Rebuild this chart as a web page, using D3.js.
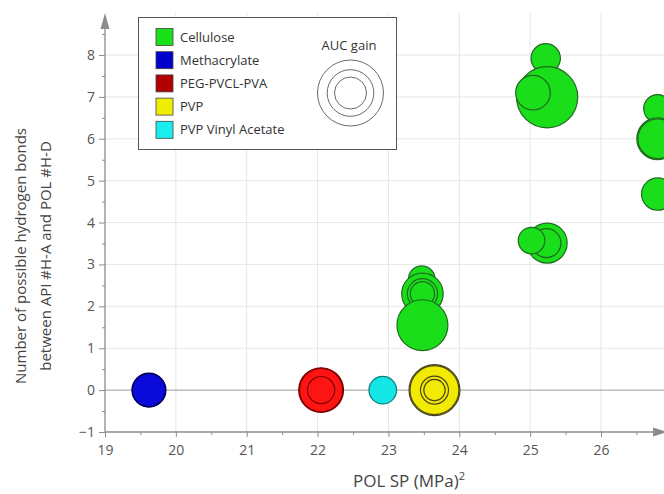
<!DOCTYPE html>
<html>
<head>
<meta charset="utf-8">
<script src="https://cdn.jsdelivr.net/npm/d3@7"></script>
<style>
  html, body { margin: 0; padding: 0; background: #fff; }
  svg { display: block; font-family: "Open Sans", "Noto Sans", sans-serif; }
</style>
</head>
<body>
<figure id="bubble" style="margin:0"></figure>
<script>
// polymer classes shown in the legend
const groups = ["Cellulose", "Methacrylate", "PEG-PVCL-PVA", "PVP", "PVP Vinyl Acetate"];

// one entry per bubble, in draw order (later ones sit on top)
const pointGroup = [
  "Methacrylate", "Methacrylate",
  "PEG-PVCL-PVA", "PEG-PVCL-PVA", "PEG-PVCL-PVA",
  "PVP Vinyl Acetate",
  "PVP", "PVP", "PVP", "PVP",
  "Cellulose", "Cellulose", "Cellulose", "Cellulose", "Cellulose",
  "Cellulose", "Cellulose", "Cellulose",
  "Cellulose", "Cellulose", "Cellulose",
  "Cellulose", "Cellulose", "Cellulose", "Cellulose"
];
const pointSP = [
  19.62, 19.62,
  22.05, 22.05, 22.05,
  22.92,
  23.65, 23.65, 23.65, 23.65,
  23.47, 23.48, 23.48, 23.48, 23.48,
  25.22, 25.24, 25.04,
  25.24, 25.23, 25.02,
  26.80, 26.80, 26.80, 26.80
];
const pointHB = [
  0, 0,
  0, 0, 0,
  0,
  0, 0, 0, 0,
  2.65, 2.3, 2.3, 2.3, 1.55,
  7.92, 6.99, 7.1,
  3.51, 3.51, 3.57,
  6.72, 6.0, 6.0, 4.68
];
const pointAUC = [
  2.65, 2.5,
  4.6, 4.3, 1.7,
  1.75,
  5.95, 5.5, 1.8, 1.05,
  1.6, 3.95, 2.1, 1.35, 5.95,
  1.98, 8.6, 2.75,
  3.67, 1.93, 1.62,
  1.8, 4.0, 3.6, 2.4
];

// AUC gain sizes drawn in the legend key
const legendAUC = [10, 5, 2.35];

const xTicks = [19, 20, 21, 22, 23, 24, 25, 26];
const yTicks = [-1, 0, 1, 2, 3, 4, 5, 6, 7, 8];

const fills = {
  "Cellulose": "#1ade1a",
  "Methacrylate": "#0a0adb",
  "PEG-PVCL-PVA": "#ff1414",
  "PVP": "#f2ea00",
  "PVP Vinyl Acetate": "#14e6e6"
};
const strokes = {
  "Cellulose": "#1f6a1f",
  "Methacrylate": "#000060",
  "PEG-PVCL-PVA": "#800000",
  "PVP": "#4a4620",
  "PVP Vinyl Acetate": "#0d7a7a"
};
const legendFills = {
  "Cellulose": "#19e019",
  "Methacrylate": "#0000cc",
  "PEG-PVCL-PVA": "#b00000",
  "PVP": "#eeee00",
  "PVP Vinyl Acetate": "#19eeee"
};

const width = 664;
const height = 494;

const x = d3.scaleLinear().domain([19, 26]).range([105, 601]);
const y = d3.scaleLinear().domain([-1, 8]).range([432, 55]);
const r = d3.scaleSqrt().domain([0, 10]).range([0, 33]);

const svg = d3.select("figure#bubble")
  .append("svg")
  .attr("width", width)
  .attr("height", height);

function drawGrid() {
  const grid = svg.append("g").attr("class", "grid");
  grid.selectAll("line.v")
    .data(xTicks.slice(1))
    .enter()
    .append("line")
    .attr("x1", d => x(d)).attr("x2", d => x(d))
    .attr("y1", y(-1)).attr("y2", 13)
    .attr("stroke", "#e6e6e6");
  grid.selectAll("line.h")
    .data(yTicks.slice(1).filter(d => d !== 0))
    .enter()
    .append("line")
    .attr("x1", x(19)).attr("x2", width)
    .attr("y1", d => y(d)).attr("y2", d => y(d))
    .attr("stroke", "#e6e6e6");
  // zero line
  grid.append("line")
    .attr("x1", x(19)).attr("x2", width)
    .attr("y1", y(0)).attr("y2", y(0))
    .attr("stroke", "#9a9a9a");
}

function drawAxes() {
  const axisColor = "#8c8c8c";

  const xAxis = svg.append("g")
    .attr("transform", "translate(0," + y(-1) + ")")
    .call(d3.axisBottom(x).tickValues(xTicks).tickSize(5).tickPadding(8).tickFormat(d3.format("d")));
  const xMinor = svg.append("g")
    .attr("transform", "translate(0," + y(-1) + ")")
    .call(d3.axisBottom(x).tickValues(xTicks.map(d => d + 0.5)).tickSize(3).tickFormat(""));

  const yAxis = svg.append("g")
    .attr("transform", "translate(" + x(19) + ",0)")
    .call(d3.axisLeft(y).tickValues(yTicks).tickSize(6).tickPadding(4).tickFormat(d3.format("d")));
  const yMinor = svg.append("g")
    .attr("transform", "translate(" + x(19) + ",0)")
    .call(d3.axisLeft(y).tickValues(yTicks.map(d => d + 0.5)).tickSize(3).tickFormat(""));

  [xAxis, xMinor, yAxis, yMinor].forEach(g => {
    g.select(".domain").remove();
    g.selectAll(".tick line").attr("stroke", axisColor);
    g.selectAll("text")
      .attr("fill", "#555")
      .style("font-size", "14px")
      .style("font-family", "'Open Sans', sans-serif");
  });

  // axis lines with arrow heads
  svg.append("line")
    .attr("x1", x(19)).attr("x2", 656)
    .attr("y1", y(-1)).attr("y2", y(-1))
    .attr("stroke", axisColor).attr("stroke-width", 1.3);
  svg.append("path")
    .attr("d", "M653," + (y(-1) - 4.5) + "L667," + y(-1) + "L653," + (y(-1) + 4.5) + "Z")
    .attr("fill", axisColor);

  svg.append("line")
    .attr("x1", x(19)).attr("x2", x(19))
    .attr("y1", y(-1)).attr("y2", 24)
    .attr("stroke", axisColor).attr("stroke-width", 1.3);
  svg.append("path")
    .attr("d", "M" + (x(19) - 4.5) + ",29L" + x(19) + ",13L" + (x(19) + 4.5) + ",29Z")
    .attr("fill", axisColor);

  // titles
  const xt = svg.append("text")
    .attr("x", 409)
    .attr("y", 487)
    .attr("text-anchor", "middle")
    .attr("fill", "#444")
    .style("font-size", "17px");
  xt.append("tspan").text("POL SP (MPa)");
  xt.append("tspan").attr("dy", -7).style("font-size", "11px").text("2");

  const yt = svg.append("text")
    .attr("transform", "translate(21,256) rotate(-90)")
    .attr("text-anchor", "middle")
    .attr("fill", "#444")
    .style("font-size", "15px");
  yt.append("tspan").attr("x", 0).attr("dy", "0.35em").text("Number of possible hydrogen bonds");
  yt.append("tspan").attr("x", 0).attr("dy", 25).text("between API #H-A and POL #H-D");
}

function drawBubbles() {
  const data = pointSP.map((sp, i) => ({
    group: pointGroup[i], sp: sp, hb: pointHB[i], auc: pointAUC[i]
  }));
  svg.append("g").attr("class", "bubbles")
    .selectAll("circle")
    .data(data)
    .enter()
    .append("circle")
    .attr("cx", d => x(d.sp))
    .attr("cy", d => y(d.hb))
    .attr("r", d => r(d.auc))
    .attr("fill", d => fills[d.group])
    .attr("stroke", d => strokes[d.group])
    .attr("stroke-width", 1.2);
}

function drawLegend() {
  const lg = svg.append("g").attr("class", "legend");
  lg.append("rect")
    .attr("x", 138.5).attr("y", 17.5)
    .attr("width", 258).attr("height", 132)
    .attr("fill", "#fff")
    .attr("stroke", "#555");

  const rows = lg.selectAll("g.row")
    .data(groups)
    .enter()
    .append("g")
    .attr("class", "row")
    .attr("transform", (d, i) => "translate(156," + (28.5 + i * 23.2) + ")");
  rows.append("rect")
    .attr("width", 17).attr("height", 17)
    .attr("fill", d => legendFills[d])
    .attr("stroke", "#444")
    .attr("stroke-width", 0.8);
  rows.append("text")
    .attr("x", 24).attr("y", 8.5)
    .attr("dy", "0.35em")
    .attr("fill", "#333")
    .style("font-size", "13px")
    .text(d => d);

  lg.append("text")
    .attr("x", 349).attr("y", 50)
    .attr("text-anchor", "middle")
    .attr("fill", "#333")
    .style("font-size", "13px")
    .text("AUC gain");
  lg.selectAll("circle")
    .data(legendAUC)
    .enter()
    .append("circle")
    .attr("cx", 350.5).attr("cy", 93)
    .attr("r", d => r(d))
    .attr("fill", "none")
    .attr("stroke", "#444")
    .attr("stroke-width", 0.8);
}

drawGrid();
drawAxes();
drawBubbles();
drawLegend();
</script>
</body>
</html>
